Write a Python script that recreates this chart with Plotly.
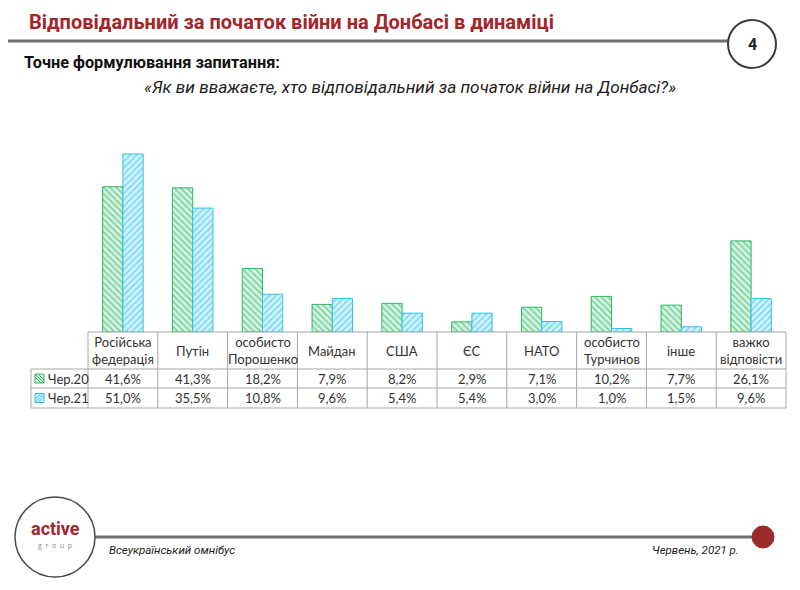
import plotly.graph_objects as go

# ---- data ----
categories = ["Російська<br>федерація", "Путін", "особисто<br>Порошенко", "Майдан", "США",
              "ЄС", "НАТО", "особисто<br>Турчинов", "інше", "важко<br>відповісти"]
series_names = ["Чер.20", "Чер.21"]
jun20 = [41.6, 41.3, 18.2, 7.9, 8.2, 2.9, 7.1, 10.2, 7.7, 26.1]
jun21 = [51.0, 35.5, 10.8, 9.6, 5.4, 5.4, 3.0, 1.0, 1.5, 9.6]

# ---- layout geometry (screen pixels; page body offsets the figure by ~8px) ----
OFF = 8
W, H = 800, 590
PLOT_L, PLOT_R, PLOT_T, BASE_Y = 88, 786, 140, 332
L = PLOT_L - OFF
R = W - (PLOT_R - OFF)
T = PLOT_T - OFF
B = H - (BASE_Y - OFF)
PW, PH = PLOT_R - PLOT_L, BASE_Y - PLOT_T


def px(x):
    return (x - PLOT_L) / PW


def py(y):
    return (BASE_Y - y) / PH


GREEN = "#2FB566"
GREEN_BG = "#D6F4E2"
BLUE = "#34C1EA"
BLUE_BG = "#D3F3FC"
GRID = "#A6A6A6"
TXT = "#333333"
TFONT = "Lato, Open Sans, sans-serif"

fig = go.Figure()
fig.add_trace(go.Bar(
    x=categories, y=jun20, name=series_names[0],
    marker=dict(color=GREEN_BG, line=dict(color=GREEN, width=1),
                pattern=dict(shape="\\", fgcolor=GREEN, bgcolor=GREEN_BG, size=4.5, solidity=0.4)),
    hoverinfo="skip"))
fig.add_trace(go.Bar(
    x=categories, y=jun21, name=series_names[1],
    marker=dict(color=BLUE_BG, line=dict(color=BLUE, width=1),
                pattern=dict(shape="/", fgcolor=BLUE, bgcolor=BLUE_BG, size=4.5, solidity=0.4)),
    hoverinfo="skip"))

shapes = []
annotations = []
n = len(categories)

# ---- table below the chart ----
y_top, y_hdr, y_r1, y_r2 = 332, 369, 388, 408
leg_left = 31
shapes.append(dict(type="line", xref="paper", yref="paper", x0=0, x1=1, y0=py(y_top), y1=py(y_top),
                   line=dict(color=GRID, width=1)))
for yy in (y_hdr, y_r1, y_r2):
    shapes.append(dict(type="line", xref="paper", yref="paper", x0=px(leg_left), x1=1,
                       y0=py(yy), y1=py(yy), line=dict(color=GRID, width=1)))
for k in range(n + 1):
    shapes.append(dict(type="line", xref="paper", yref="paper", x0=k / n, x1=k / n,
                       y0=py(y_top), y1=py(y_r2), line=dict(color=GRID, width=1)))
shapes.append(dict(type="line", xref="paper", yref="paper", x0=px(leg_left), x1=px(leg_left),
                   y0=py(y_hdr), y1=py(y_r2), line=dict(color=GRID, width=1)))

for i, c in enumerate(categories):
    xc = (i + 0.5) / n
    annotations.append(dict(xref="paper", yref="paper", x=xc, y=py((y_top + y_hdr) / 2), text=c,
                            showarrow=False, xanchor="center", yanchor="middle",
                            font=dict(family=TFONT, size=13, color=TXT)))
    for vals, (ya, yb) in ((jun20, (y_hdr, y_r1)), (jun21, (y_r1, y_r2))):
        annotations.append(dict(xref="paper", yref="paper", x=xc, y=py((ya + yb) / 2),
                                text=f"{vals[i]:.1f}".replace(".", ",") + "%",
                                showarrow=False, xanchor="center", yanchor="middle",
                                font=dict(family=TFONT, size=13, color=TXT)))

# legend column
for name, (ya, yb), col, bg, direction in ((series_names[0], (y_hdr, y_r1), GREEN, GREEN_BG, "\\"),
                                           (series_names[1], (y_r1, y_r2), BLUE, BLUE_BG, "/")):
    yc = (ya + yb) / 2
    x0, x1, y0, y1 = 35, 44, yc - 4.5, yc + 4.5
    shapes.append(dict(type="rect", xref="paper", yref="paper", x0=px(x0), x1=px(x1),
                       y0=py(y1), y1=py(y0), fillcolor=bg, line=dict(color=col, width=1)))
    for off in (-3, 0, 3):
        if direction == "\\":
            a = (x0 + max(0, off), y0 + max(0, -off))
            b = (x1 - max(0, -off), y1 - max(0, off))
        else:
            a = (x0 + max(0, off), y1 - max(0, -off))
            b = (x1 - max(0, -off), y0 + max(0, off))
        shapes.append(dict(type="line", xref="paper", yref="paper", x0=px(a[0]), y0=py(a[1]),
                           x1=px(b[0]), y1=py(b[1]), line=dict(color=col, width=1)))
    annotations.append(dict(xref="paper", yref="paper", x=px(46), y=py(yc), text=name,
                            showarrow=False, xanchor="left", yanchor="middle",
                            font=dict(family=TFONT, size=13, color=TXT)))

# ---- header ----
TITLE_FONT = "Liberation Sans Narrow, Roboto, sans-serif"
annotations.append(dict(xref="paper", yref="paper", x=px(27), y=py(22),
                        text="<b>Відповідальний за початок війни на Донбасі в динаміці</b>",
                        showarrow=False, xanchor="left", yanchor="middle",
                        font=dict(family=TITLE_FONT, size=20, color="#A3262B")))
shapes.append(dict(type="line", xref="paper", yref="paper", x0=px(8), x1=px(728), y0=py(41), y1=py(41),
                   line=dict(color="#6E6E6E", width=3)))
shapes.append(dict(type="circle", xref="paper", yref="paper", x0=px(728), x1=px(776), y0=py(68), y1=py(20),
                   fillcolor="white", line=dict(color="#3A3A3A", width=2)))
annotations.append(dict(xref="paper", yref="paper", x=px(752), y=py(44), text="<b>4</b>",
                        showarrow=False, xanchor="center", yanchor="middle",
                        font=dict(family=TITLE_FONT, size=16, color="#222222")))
annotations.append(dict(xref="paper", yref="paper", x=px(22), y=py(62),
                        text="<b>Точне формулювання запитання:</b>",
                        showarrow=False, xanchor="left", yanchor="middle",
                        font=dict(family=TITLE_FONT, size=16.3, color="#111111")))
annotations.append(dict(xref="paper", yref="paper", x=px(410), y=py(87),
                        text="<i>«Як ви вважаєте, хто відповідальний за початок війни на Донбасі?»</i>",
                        showarrow=False, xanchor="center", yanchor="middle",
                        font=dict(family=TITLE_FONT, size=17.2, color="#222222")))

# ---- footer ----
shapes.append(dict(type="line", xref="paper", yref="paper", x0=px(95), x1=px(755), y0=py(537), y1=py(537),
                   line=dict(color="#6E6E6E", width=3)))
shapes.append(dict(type="circle", xref="paper", yref="paper", x0=px(752), x1=px(774), y0=py(548), y1=py(526),
                   fillcolor="#9B2A2A", line=dict(color="#9B2A2A", width=1)))
shapes.append(dict(type="circle", xref="paper", yref="paper", x0=px(15), x1=px(95), y0=py(577), y1=py(497),
                   fillcolor="white", line=dict(color="#4A4A4A", width=1.5)))
annotations.append(dict(xref="paper", yref="paper", x=px(55), y=py(528), text="<b>active</b>",
                        showarrow=False, xanchor="center", yanchor="middle",
                        font=dict(family=TITLE_FONT, size=18, color="#A3262B")))
annotations.append(dict(xref="paper", yref="paper", x=px(55), y=py(545), text="g  r  o  u  p",
                        showarrow=False, xanchor="center", yanchor="middle",
                        font=dict(family="Open Sans, sans-serif", size=7, color="#888888")))
annotations.append(dict(xref="paper", yref="paper", x=px(107), y=py(550), text="<i>Всеукраїнський омнібус</i>",
                        showarrow=False, xanchor="left", yanchor="middle",
                        font=dict(family=TITLE_FONT, size=11.5, color="#222222")))
annotations.append(dict(xref="paper", yref="paper", x=px(741), y=py(550), text="<i>Червень, 2021 р.</i>",
                        showarrow=False, xanchor="right", yanchor="middle",
                        font=dict(family=TITLE_FONT, size=11.5, color="#222222")))

fig.update_layout(
    width=W, height=H,
    margin=dict(l=L, r=R, t=T, b=B),
    paper_bgcolor="white", plot_bgcolor="white",
    barmode="group", bargap=0.42, bargroupgap=0,
    showlegend=False,
    xaxis=dict(showticklabels=False, showgrid=False, zeroline=False, showline=False, ticks="",
               range=[-0.5, n - 0.5]),
    yaxis=dict(range=[0, 51.0 * PH / 178], showticklabels=False, showgrid=False, zeroline=False,
               showline=False, ticks=""),
    shapes=shapes, annotations=annotations,
)

fig.write_html("out.html")
